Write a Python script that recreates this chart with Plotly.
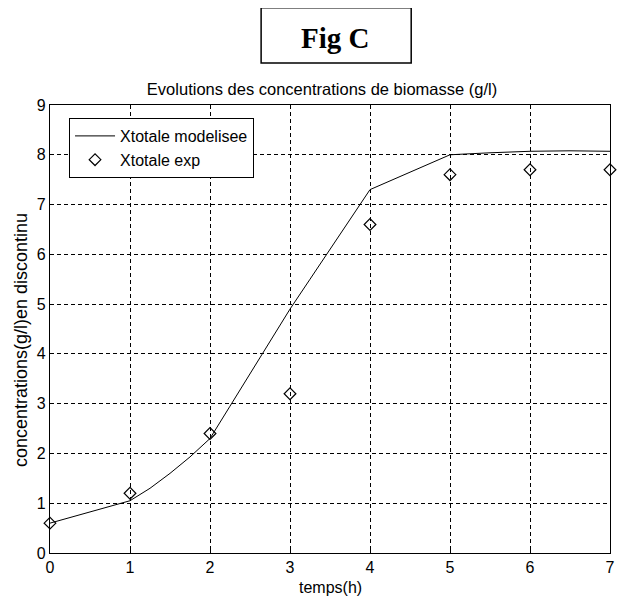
import plotly.graph_objects as go

# ==========================================================
# DATA
# ==========================================================
t_model = [0, 0.5, 1, 1.25, 1.5, 1.75, 2, 2.25, 2.5, 2.75, 3,
           3.25, 3.5, 3.75, 4, 4.5, 5, 5.5, 6, 6.5, 7]
x_model = [0.6, 0.83, 1.05, 1.3, 1.6, 1.93, 2.3, 2.95, 3.6, 4.25, 4.9,
           5.5, 6.1, 6.7, 7.3, 7.65, 8.0, 8.04, 8.07, 8.08, 8.07]

t_exp = [0, 1, 2, 3, 4, 5, 6, 7]
x_exp = [0.6, 1.2, 2.4, 3.2, 6.6, 7.6, 7.7, 7.7]

x_ticks = [0, 1, 2, 3, 4, 5, 6, 7]
y_ticks = [0, 1, 2, 3, 4, 5, 6, 7, 8, 9]

FONT = "Liberation Sans, Arial, sans-serif"

fig = go.Figure()

fig.add_trace(go.Scatter(
    x=t_model, y=x_model, mode="lines",
    name="Xtotale modelisee",
    line=dict(color="black", width=1),
))

fig.add_trace(go.Scatter(
    x=t_exp, y=x_exp, mode="markers",
    name="Xtotale exp",
    marker=dict(symbol="diamond-open", size=9, color="black",
                line=dict(color="black", width=1.2)),
    cliponaxis=False,
))

axis_common = dict(
    showline=True, linecolor="black", linewidth=1.2, mirror=True,
    showgrid=True, gridcolor="black", griddash="4px,3px", gridwidth=1,
    zeroline=False, ticks="inside", ticklen=4, tickcolor="black",
    tickfont=dict(family=FONT, size=16, color="black"),
    automargin=False,
)

fig.update_xaxes(range=[0, 7], tickvals=x_ticks, **axis_common)
fig.update_yaxes(range=[0, 9], tickvals=y_ticks, **axis_common)

# axis labels as annotations so the plot box stays put
fig.add_annotation(text="temps(h)", xref="paper", yref="paper",
                   x=0.5, y=-0.078, xanchor="center", yanchor="middle",
                   showarrow=False,
                   font=dict(family=FONT, size=16, color="black"))
fig.add_annotation(text="concentrations(g/l)en discontinu",
                   xref="paper", yref="paper", x=-0.052, y=0.475,
                   xanchor="center", yanchor="middle", textangle=-90,
                   showarrow=False,
                   font=dict(family=FONT, size=18, color="black"))

# "Fig C" boxed heading
fig.add_shape(type="rect", xref="paper", yref="paper",
              x0=0.377, x1=0.645, y0=1.094, y1=1.217,
              line=dict(color="black", width=1.5))
fig.add_annotation(text="<b>Fig C</b>", xref="paper", yref="paper",
                   x=0.509, y=1.15, xanchor="center", yanchor="middle",
                   showarrow=False,
                   font=dict(family="Liberation Serif, Times New Roman, serif",
                             size=29, color="black"))

# page body adds an 8px offset, so the figure is 8px smaller than the window
fig.update_layout(
    width=617, height=593,
    margin=dict(l=42, r=15, t=97, b=48),
    paper_bgcolor="white", plot_bgcolor="white",
    title=dict(text="Evolutions des concentrations de biomasse (g/l)",
               x=0.509, xanchor="center", y=0.863, yanchor="middle",
               font=dict(family=FONT, size=16.5, color="black")),
    legend=dict(x=0.034, y=0.971, xanchor="left", yanchor="top",
                bgcolor="white", bordercolor="black", borderwidth=1,
                font=dict(family=FONT, size=16, color="black"),
                tracegroupgap=0, itemwidth=40, entrywidth=175),
    showlegend=True,
)

fig.write_html("out.html")
